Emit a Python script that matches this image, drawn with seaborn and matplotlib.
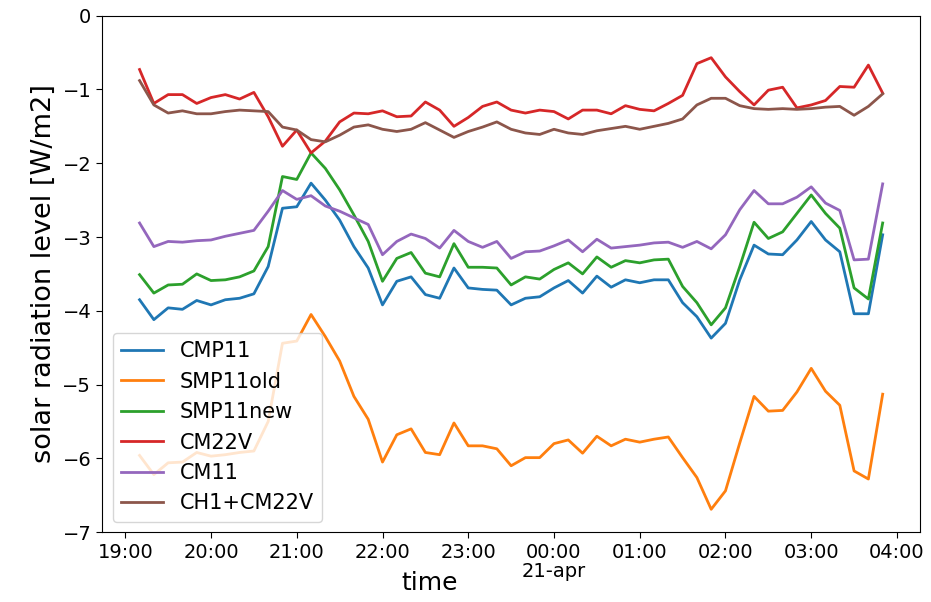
import matplotlib
matplotlib.use("Agg")
import matplotlib.pyplot as plt
import matplotlib.dates as mdates
import matplotlib.ticker as mticker
import seaborn as sns
import pandas as pd
import numpy as np

# ---- data ----
start_time = "2021-04-20 19:10"
step_minutes = 10

cmp11 = [-3.85, -4.12, -3.96, -3.98, -3.86, -3.92, -3.85, -3.83, -3.77, -3.40,
         -2.61, -2.59, -2.27, -2.50, -2.77, -3.13, -3.42, -3.92, -3.60, -3.54,
         -3.78, -3.83, -3.42, -3.69, -3.71, -3.72, -3.92, -3.83, -3.81, -3.69,
         -3.59, -3.76, -3.53, -3.68, -3.58, -3.62, -3.58, -3.58, -3.89, -4.08,
         -4.37, -4.17, -3.58, -3.11, -3.23, -3.24, -3.04, -2.79, -3.04, -3.20,
         -4.04, -4.04, -2.97]
smp11old = [-5.96, -6.22, -6.06, -6.05, -5.92, -5.97, -5.95, -5.92, -5.90, -5.50,
            -4.44, -4.41, -4.05, -4.35, -4.68, -5.16, -5.47, -6.05, -5.68, -5.60,
            -5.92, -5.95, -5.52, -5.83, -5.83, -5.87, -6.10, -5.99, -5.99, -5.80,
            -5.75, -5.93, -5.70, -5.83, -5.74, -5.78, -5.74, -5.71, -5.99, -6.26,
            -6.69, -6.44, -5.79, -5.16, -5.36, -5.35, -5.10, -4.78, -5.09, -5.28,
            -6.17, -6.28, -5.13]
smp11new = [-3.51, -3.76, -3.65, -3.64, -3.50, -3.59, -3.58, -3.54, -3.46, -3.13,
            -2.18, -2.22, -1.86, -2.07, -2.36, -2.70, -3.06, -3.60, -3.29, -3.21,
            -3.49, -3.54, -3.09, -3.41, -3.41, -3.42, -3.65, -3.54, -3.57, -3.44,
            -3.35, -3.50, -3.27, -3.41, -3.32, -3.35, -3.31, -3.30, -3.67, -3.89,
            -4.19, -3.96, -3.40, -2.80, -3.02, -2.93, -2.68, -2.43, -2.68, -2.88,
            -3.69, -3.84, -2.81]
cm22v = [-0.73, -1.19, -1.07, -1.07, -1.19, -1.11, -1.07, -1.13, -1.04, -1.37,
         -1.77, -1.55, -1.86, -1.70, -1.44, -1.32, -1.33, -1.29, -1.37, -1.36,
         -1.17, -1.28, -1.50, -1.38, -1.23, -1.17, -1.28, -1.32, -1.28, -1.30,
         -1.40, -1.28, -1.28, -1.33, -1.22, -1.27, -1.29, -1.19, -1.08, -0.65,
         -0.57, -0.83, -1.03, -1.21, -1.01, -0.97, -1.25, -1.21, -1.15, -0.96,
         -0.97, -0.67, -1.05]
cm11 = [-2.81, -3.13, -3.06, -3.07, -3.05, -3.04, -2.99, -2.95, -2.91, -2.65,
        -2.37, -2.49, -2.44, -2.58, -2.65, -2.74, -2.83, -3.24, -3.06, -2.96,
        -3.02, -3.15, -2.91, -3.06, -3.14, -3.06, -3.29, -3.20, -3.19, -3.12,
        -3.04, -3.20, -3.03, -3.15, -3.13, -3.11, -3.08, -3.07, -3.14, -3.06,
        -3.16, -2.97, -2.63, -2.37, -2.55, -2.55, -2.46, -2.32, -2.54, -2.64,
        -3.31, -3.30, -2.28]
ch1_cm22v = [-0.88, -1.21, -1.32, -1.29, -1.33, -1.33, -1.30, -1.28, -1.29, -1.30,
             -1.51, -1.55, -1.68, -1.71, -1.62, -1.51, -1.48, -1.54, -1.57, -1.54,
             -1.45, -1.55, -1.65, -1.57, -1.51, -1.44, -1.54, -1.59, -1.61, -1.54,
             -1.59, -1.61, -1.56, -1.53, -1.50, -1.54, -1.50, -1.46, -1.40, -1.21,
             -1.12, -1.12, -1.22, -1.26, -1.27, -1.26, -1.27, -1.26, -1.24, -1.23,
             -1.35, -1.23, -1.06]

series_names = ["CMP11", "SMP11old", "SMP11new", "CM22V", "CM11", "CH1+CM22V"]
series_values = [cmp11, smp11old, smp11new, cm22v, cm11, ch1_cm22v]
y_ticks = [-7, -6, -5, -4, -3, -2, -1, 0]

times = pd.date_range(start_time, periods=len(cmp11), freq=f"{step_minutes}min")

frames = []
for name, vals in zip(series_names, series_values):
    frames.append(pd.DataFrame({"time": times, "value": vals, "series": name}))
df = pd.concat(frames, ignore_index=True)

# ---- plot ----
plt.rcParams["font.family"] = ["DejaVu Sans"]
fig = plt.figure(figsize=(9.31, 6.02), dpi=100)
ax = fig.add_axes([0.110, 0.116, 0.878, 0.858])

palette = sns.color_palette("tab10", 6)
for (name, color) in zip(series_names, palette):
    sub = df[df["series"] == name]
    sns.lineplot(data=sub, x="time", y="value", ax=ax, color=color,
                 linewidth=2.0, label=name)

ax.set_ylim(-7, 0)
ax.set_yticks(y_ticks)
ax.xaxis.set_major_locator(mdates.HourLocator())


def fmt(x, pos=None):
    d = mdates.num2date(x)
    if d.hour == 0:
        return d.strftime("%H:%M") + "\n" + d.strftime("%d-%b").lower()
    return d.strftime("%H:%M")


ax.xaxis.set_major_formatter(mticker.FuncFormatter(fmt))
ax.tick_params(labelsize=14, length=4.5)
for lbl in ax.get_xticklabels():
    if "\n" in lbl.get_text():
        lbl.set_linespacing(1.0)
ax.set_xlabel("time", fontsize=18, va="center")
ax.xaxis.set_label_coords(0.40, -0.099)
ax.set_ylabel("solar radiation level [W/m2]", fontsize=19.5)
ax.legend(loc="lower left", fontsize=15)
for s in ax.spines.values():
    s.set_color("black")

fig.savefig("out.png", dpi=100)
